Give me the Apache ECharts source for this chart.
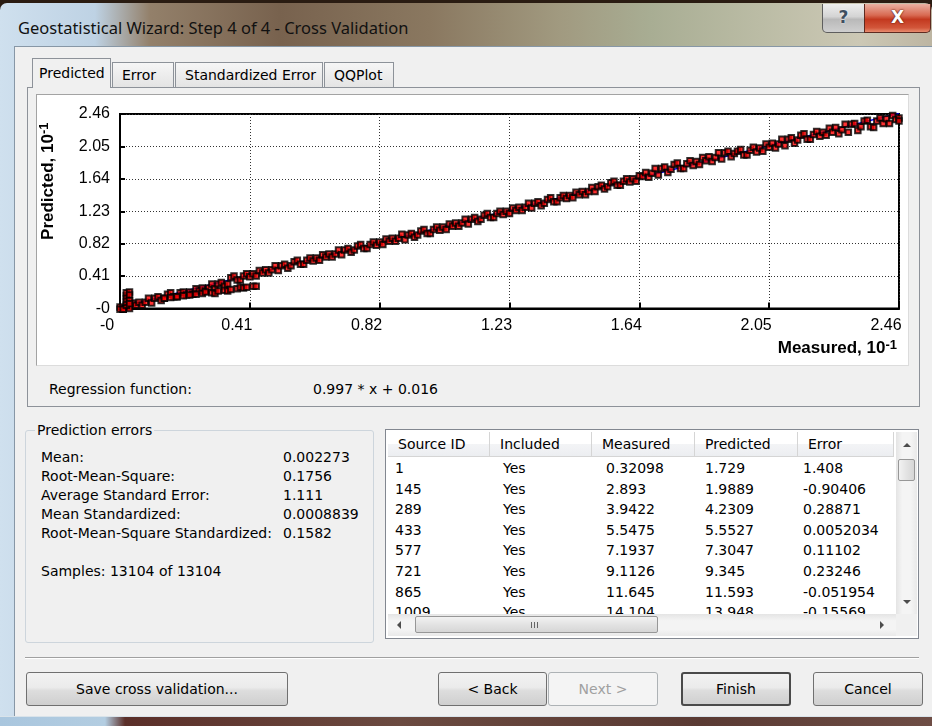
<!DOCTYPE html>
<html><head><meta charset="utf-8"><title>Geostatistical Wizard: Step 4 of 4 - Cross Validation</title>
<script src="https://cdn.jsdelivr.net/npm/echarts@6.0.0/dist/echarts.min.js"></script>
<style>
*{box-sizing:border-box;}
html,body{margin:0;padding:0;width:932px;height:726px;overflow:hidden;}
body{position:relative;font-family:"DejaVu Sans",Verdana,sans-serif;font-size:14px;color:#000;background:#2a1c12;}
.a{position:absolute;}
#glass{left:0;top:3px;width:932px;height:723px;border-radius:7px 7px 0 0;
 background:linear-gradient(90deg,#cfe0ee 0,#bed2e4 95px,#93806a 150px,#78624e 280px,#8a7860 430px,#a19a80 560px,#a8ad93 650px,#bbbca5 760px,#ccc8b5 860px,#bdb5a2 932px);}
#client{left:14px;top:46px;width:918px;height:670px;background:#f0f0f0;border-left:1px solid #8797a6;border-top:1px solid #8797a6;}
#bottomframe{left:0;top:716px;width:932px;height:10px;background:linear-gradient(90deg,#a9c6de 0,#b3cde1 105px,#5b2f29 125px,#6b4a40 400px,#5a3a33 700px,#6e4d45 932px);border-top:1px solid #d9e3ea;}
#title{left:18px;top:16px;line-height:24px;font-family:"Noto Sans",sans-serif;font-size:16.5px;color:#111;white-space:nowrap;}
#help{left:822px;top:4px;width:43px;height:29px;border:1px solid #5e5e5e;border-top:none;border-radius:0 0 0 5px;
 background:linear-gradient(#eeeeee,#d4d4d4 45%,#b9b9b9 55%,#cfcfcf);text-align:center;font-weight:bold;font-size:17px;line-height:27px;color:#3f4f60;text-shadow:0 0 2px #fff;}
#close{left:864px;top:4px;width:67px;height:29px;border:1px solid #5e2a20;border-top:none;border-radius:0 0 5px 0;
 background:linear-gradient(#eab0a2,#d86a52 40%,#c3391f 55%,#d2563a 85%,#e88c6f);text-align:center;font-weight:bold;font-size:17px;line-height:27px;color:#fff;text-shadow:0 0 2px #5a1a10,0 0 1px #5a1a10;}
.tab{top:62px;height:25px;border:1px solid #8d9299;border-bottom:none;background:linear-gradient(#f6f6f6,#e4e4e4);line-height:24px;padding-left:9px;white-space:nowrap;}
#tabsel{left:32px;top:58px;width:79px;height:30px;background:#f0f0f0;border:1px solid #8d9299;border-bottom:none;line-height:28px;padding-left:6px;z-index:3;}
#panel{left:27px;top:87px;width:893px;height:320px;border:1px solid #8d9299;background:#f0f0f0;}
#plotbox{left:36px;top:94px;width:873px;height:272px;background:#fff;border:1px solid #a3a3a3;border-right-color:#dcdcdc;border-bottom-color:#dcdcdc;}
.txt{white-space:nowrap;line-height:18px;}
#group{left:25px;top:430px;width:349px;height:213px;border:1px solid #cdd5dc;border-radius:3px;}
#grouplabel{left:35px;top:421px;background:#f0f0f0;padding:0 2px;line-height:18px;}
#table{left:385px;top:429px;width:534px;height:210px;border:1px solid #828790;background:#fff;overflow:hidden;}
.hcell{top:2px;height:25px;line-height:25px;border-right:1px solid #d5d5d5;border-bottom:1px solid #d5d5d5;padding-left:10px;white-space:nowrap;
 background:linear-gradient(#ffffff,#ffffff 50%,#f3f4f6 51%,#eceef1);}
.cell{white-space:nowrap;height:21px;line-height:21px;}
#vscroll{left:510px;top:2px;width:21px;height:182px;background:linear-gradient(90deg,#e4e4e4,#f4f4f4 30%,#f4f4f4 70%,#e9e9e9);}
#hscroll{left:2px;top:184px;width:508px;height:22px;background:linear-gradient(#e4e4e4,#f4f4f4 30%,#f4f4f4 70%,#e9e9e9);}
#corner{left:510px;top:184px;width:21px;height:22px;background:#f0f0f0;}
.thumbv{left:2px;top:27px;width:17px;height:22px;border:1px solid #979797;border-radius:2px;background:linear-gradient(90deg,#f2f2f2,#e3e3e3 50%,#d6d6d6);}
.thumbh{left:27px;top:2px;width:243px;height:17px;border:1px solid #979797;border-radius:2px;background:linear-gradient(#f2f2f2,#e3e3e3 50%,#d6d6d6);}
.grip{left:115px;top:5px;width:7px;height:6px;background:repeating-linear-gradient(90deg,#666 0,#666 1px,transparent 1px,transparent 3px);}
.tri{width:0;height:0;border-style:solid;}
.btn{top:672px;height:34px;border:1px solid #707070;border-radius:3px;background:linear-gradient(#f2f2f2,#ebebeb 45%,#dddddd 55%,#cfcfcf);text-align:center;line-height:32px;white-space:nowrap;}
#sep{left:25px;top:657px;width:894px;height:2px;border-top:1px solid #a0a0a0;border-bottom:1px solid #ffffff;}
#chart{left:0;top:0;width:932px;height:726px;z-index:10;pointer-events:none;}
</style></head>
<body>
<div class="a" id="glass"></div>
<div class="a" id="client"></div>
<div class="a" id="bottomframe"></div>
<div class="a" id="title">Geostatistical Wizard: Step 4 of 4 - Cross Validation</div>
<div class="a" id="help">?</div>
<div class="a" id="close">X</div>

<div class="a" id="panel"></div>
<div id="tabs"></div>
<div class="a" id="plotbox"></div>
<div class="a txt" id="regLabel" style="left:49px;top:380px;"></div>
<div class="a txt" id="regValue" style="left:313px;top:380px;"></div>

<div class="a" id="group"></div>
<div class="a" id="grouplabel">Prediction errors</div>
<div id="stats"></div>

<div class="a" id="table">
  <div id="tableInner"></div>
  <div class="a" id="vscroll">
    <div class="a tri" style="left:7px;top:11px;border-width:0 4px 4px 4px;border-color:transparent transparent #4d4d4d transparent;"></div>
    <div class="a thumbv"></div>
    <div class="a tri" style="left:7px;top:168px;border-width:4px 4px 0 4px;border-color:#4d4d4d transparent transparent transparent;"></div>
  </div>
  <div class="a" id="hscroll">
    <div class="a tri" style="left:9px;top:7px;border-width:4px 4px 4px 0;border-color:transparent #4d4d4d transparent transparent;"></div>
    <div class="a thumbh"><div class="a grip"></div></div>
    <div class="a tri" style="left:492px;top:7px;border-width:4px 0 4px 4px;border-color:transparent transparent transparent #4d4d4d;"></div>
  </div>
  <div class="a" id="corner"></div>
</div>

<div class="a" id="sep"></div>
<div id="buttons"></div>

<div class="a" id="chart"></div>

<script>
// ---------------- chart data ----------------
const xTickLabels = ['-0', '0.41', '0.82', '1.23', '1.64', '2.05', '2.46'];
const yTickLabels = ['-0', '0.41', '0.82', '1.23', '1.64', '2.05', '2.46'];
const axisMin = 0, axisMax = 2.46, axisStep = 0.41;

// measured vs predicted (10^-1)
const mainBand = [
[0.00,0.02],[0.01,-0.01],[0.02,0.03],[0.03,0.00],[0.04,0.07],[0.05,0.04],[0.06,0.08],[0.07,0.04],[0.08,0.08],[0.09,0.13],
[0.10,0.07],[0.11,0.13],[0.12,0.15],[0.13,0.10],[0.14,0.13],[0.15,0.18],[0.16,0.20],[0.17,0.15],[0.18,0.15],[0.19,0.20],
[0.20,0.21],[0.21,0.17],[0.22,0.21],[0.23,0.18],[0.24,0.25],[0.25,0.22],[0.26,0.26],[0.27,0.22],[0.28,0.26],[0.29,0.31],
[0.30,0.25],[0.31,0.31],[0.32,0.33],[0.33,0.28],[0.34,0.31],[0.35,0.39],[0.36,0.41],[0.37,0.36],[0.38,0.36],[0.39,0.41],
[0.40,0.44],[0.41,0.40],[0.42,0.44],[0.43,0.41],[0.44,0.48],[0.45,0.45],[0.46,0.49],[0.47,0.45],[0.48,0.49],[0.49,0.54],
[0.50,0.48],[0.51,0.54],[0.52,0.56],[0.53,0.51],[0.54,0.54],[0.55,0.59],[0.56,0.61],[0.57,0.56],[0.58,0.56],[0.59,0.61],
[0.60,0.64],[0.61,0.60],[0.62,0.64],[0.63,0.61],[0.64,0.68],[0.65,0.65],[0.66,0.69],[0.67,0.65],[0.68,0.69],[0.69,0.74],
[0.70,0.68],[0.71,0.74],[0.72,0.76],[0.73,0.71],[0.74,0.74],[0.75,0.79],[0.76,0.81],[0.77,0.76],[0.78,0.76],[0.79,0.81],
[0.80,0.84],[0.81,0.80],[0.82,0.84],[0.83,0.81],[0.84,0.88],[0.85,0.85],[0.86,0.89],[0.87,0.85],[0.88,0.89],[0.89,0.94],
[0.90,0.87],[0.91,0.93],[0.92,0.95],[0.93,0.90],[0.94,0.93],[0.95,0.98],[0.96,1.00],[0.97,0.95],[0.98,0.95],[0.99,1.00],
[1.00,1.03],[1.01,0.99],[1.02,1.03],[1.03,1.00],[1.04,1.07],[1.05,1.04],[1.06,1.08],[1.07,1.04],[1.08,1.08],[1.09,1.13],
[1.10,1.07],[1.11,1.13],[1.12,1.15],[1.13,1.10],[1.14,1.13],[1.15,1.18],[1.16,1.20],[1.17,1.15],[1.18,1.15],[1.19,1.20],
[1.20,1.23],[1.21,1.19],[1.22,1.23],[1.23,1.20],[1.24,1.27],[1.25,1.24],[1.26,1.28],[1.27,1.24],[1.28,1.28],[1.29,1.33],
[1.30,1.27],[1.31,1.33],[1.32,1.35],[1.33,1.30],[1.34,1.33],[1.35,1.38],[1.36,1.40],[1.37,1.35],[1.38,1.35],[1.39,1.40],
[1.40,1.43],[1.41,1.39],[1.42,1.43],[1.43,1.40],[1.44,1.47],[1.45,1.44],[1.46,1.48],[1.47,1.44],[1.48,1.48],[1.49,1.53],
[1.50,1.48],[1.51,1.54],[1.52,1.56],[1.53,1.51],[1.54,1.54],[1.55,1.59],[1.56,1.61],[1.57,1.56],[1.58,1.56],[1.59,1.61],
[1.60,1.64],[1.61,1.60],[1.62,1.64],[1.63,1.61],[1.64,1.68],[1.65,1.67],[1.66,1.72],[1.67,1.66],[1.68,1.71],[1.69,1.77],
[1.70,1.69],[1.71,1.77],[1.72,1.79],[1.73,1.72],[1.74,1.76],[1.75,1.82],[1.76,1.84],[1.77,1.77],[1.78,1.77],[1.79,1.83],
[1.80,1.87],[1.81,1.81],[1.82,1.86],[1.83,1.82],[1.84,1.91],[1.85,1.87],[1.86,1.92],[1.87,1.86],[1.88,1.91],[1.89,1.97],
[1.90,1.89],[1.91,1.97],[1.92,1.99],[1.93,1.92],[1.94,1.96],[1.95,1.99],[1.96,2.01],[1.97,1.94],[1.98,1.94],[1.99,2.00],
[2.00,2.04],[2.01,1.98],[2.02,2.03],[2.03,1.99],[2.04,2.08],[2.05,2.04],[2.06,2.09],[2.07,2.03],[2.08,2.08],[2.09,2.14],
[2.10,2.06],[2.11,2.14],[2.12,2.16],[2.13,2.09],[2.14,2.13],[2.15,2.19],[2.16,2.21],[2.17,2.14],[2.18,2.14],[2.19,2.20],
[2.20,2.24],[2.21,2.18],[2.22,2.23],[2.23,2.19],[2.24,2.28],[2.25,2.23],[2.26,2.29],[2.27,2.21],[2.28,2.26],[2.29,2.33],
[2.30,2.23],[2.31,2.33],[2.32,2.34],[2.33,2.25],[2.34,2.30],[2.35,2.37],[2.36,2.38],[2.37,2.30],[2.38,2.29],[2.39,2.37],
[2.40,2.41],[2.41,2.34],[2.42,2.40],[2.43,2.34],[2.44,2.44],[2.45,2.39],[2.46,2.41],[2.46,2.37]
];
const lowerBranch = [
[0.14,0.13],[0.16,0.14],[0.18,0.15],[0.20,0.16],[0.22,0.17],[0.24,0.18],[0.26,0.19],[0.27,0.21],[0.29,0.20],[0.30,0.19],
[0.31,0.22],[0.33,0.23],[0.34,0.22],[0.35,0.24],[0.37,0.25],[0.38,0.27],[0.39,0.26],[0.40,0.27],[0.42,0.28],[0.43,0.28]
];
const originSpike = [
[0.00,-0.01],[0.01,-0.01],[0.02,0.04],[0.02,0.08],[0.02,0.12],[0.02,0.16],[0.02,0.20],[0.03,0.21],[0.03,0.17],[0.03,0.10],[0.03,0.06]
];
const regressionLine = [[0.00, 0.016], [2.46, 2.469]];

// ---------------- dialog texts ----------------
const tabNames = ['Predicted', 'Error', 'Standardized Error', 'QQPlot'];
const regressionText = ['Regression function:', '0.997 * x + 0.016'];
const statLabels = ['Mean:', 'Root-Mean-Square:', 'Average Standard Error:', 'Mean Standardized:', 'Root-Mean-Square Standardized:'];
const statValues = ['0.002273', '0.1756', '1.111', '0.0008839', '0.1582'];
const samplesText = 'Samples: 13104 of 13104';
const tableHeaders = ['Source ID', 'Included', 'Measured', 'Predicted', 'Error'];
const sourceIds = ['1', '145', '289', '433', '577', '721', '865', '1009'];
const includedVals = ['Yes', 'Yes', 'Yes', 'Yes', 'Yes', 'Yes', 'Yes', 'Yes'];
const measuredVals = ['0.32098', '2.893', '3.9422', '5.5475', '7.1937', '9.1126', '11.645', '14.104'];
const predictedVals = ['1.729', '1.9889', '4.2309', '5.5527', '7.3047', '9.345', '11.593', '13.948'];
const errorVals = ['1.408', '-0.90406', '0.28871', '0.0052034', '0.11102', '0.23246', '-0.051954', '-0.15569'];
const buttonLabels = ['Save cross validation...', '< Back', 'Next >', 'Finish', 'Cancel'];

// ---------------- build dialog ----------------
function el(parent, cls, style, text) {
  const d = document.createElement('div');
  d.className = cls; d.setAttribute('style', style);
  if (text !== undefined) d.textContent = text;
  parent.appendChild(d); return d;
}
const tabsEl = document.getElementById('tabs');
const tabGeom = [[32, 79], [112, 62], [175, 148], [324, 70]];
tabNames.forEach((t, i) => {
  if (i === 0) { const d = el(tabsEl, 'a', '', t); d.id = 'tabsel'; }
  else el(tabsEl, 'a tab', `left:${tabGeom[i][0]}px;width:${tabGeom[i][1]}px;`, t);
});
document.getElementById('regLabel').textContent = regressionText[0];
document.getElementById('regValue').textContent = regressionText[1];

const statsEl = document.getElementById('stats');
statLabels.forEach((t, i) => {
  el(statsEl, 'a txt', `left:41px;top:${448 + i * 19}px;`, t);
  el(statsEl, 'a txt', `left:283px;top:${448 + i * 19}px;`, statValues[i]);
});
el(statsEl, 'a txt', `left:41px;top:${448 + 6 * 19}px;`, samplesText);

const tbl = document.getElementById('tableInner');
const colX = [2, 104, 206, 309, 412];
const colW = [102, 102, 103, 103, 96];
tableHeaders.forEach((h, i) => el(tbl, 'a hcell', `left:${colX[i]}px;width:${colW[i]}px;`, h));
const cols = [sourceIds, includedVals, measuredVals, predictedVals, errorVals];
const cellPad = [7, 13, 14, 10, 5];
sourceIds.forEach((_, r) => {
  cols.forEach((c, i) => el(tbl, 'a cell', `left:${colX[i] + cellPad[i]}px;top:${(28 + r * 20.6).toFixed(1)}px;`, c[r]));
});

const btnEl = document.getElementById('buttons');
const btnGeom = [[26, 262], [438, 109], [548, 110], [681, 110], [813, 110]];
buttonLabels.forEach((b, i) => {
  let extra = '';
  if (i === 2) extra = 'color:#a0a0a0;border-color:#adb2b5;background:#f4f4f4;';
  if (i === 3) extra = 'border:2px solid #4a4a4a;line-height:30px;';
  el(btnEl, 'a btn', `left:${btnGeom[i][0]}px;width:${btnGeom[i][1]}px;${extra}`, b);
});

// ---------------- chart ----------------
const chart = echarts.init(document.getElementById('chart'), null, { renderer: 'canvas' });
const axisFont = 'Liberation Sans';
const titleRich = {
  b: { fontFamily: axisFont, fontSize: 17, fontWeight: 'bold', color: '#000', lineHeight: 20 },
  s: { fontFamily: axisFont, fontSize: 13, fontWeight: 'bold', color: '#000', lineHeight: 13, verticalAlign: 'top' }
};
chart.setOption({
  animation: false,
  grid: { left: 120, right: 33, top: 114, bottom: 417.5, show: true, borderColor: '#000', borderWidth: 2, backgroundColor: 'transparent' },
  xAxis: {
    type: 'value', min: axisMin, max: axisMax, interval: axisStep,
    axisLine: { show: true, onZero: false, lineStyle: { color: '#000', width: 2 } },
    axisTick: { show: true, inside: true, length: 6, lineStyle: { color: '#000', width: 2 } },
    splitLine: { show: true, lineStyle: { color: '#333', width: 1, type: [1, 2] } },
    axisLabel: { formatter: (v, i) => xTickLabels[i], fontFamily: axisFont, fontSize: 16, color: '#000', margin: 9, padding: [0, 26, 0, 0] },
    name: '{b|Measured, 10}{s|-1}', nameLocation: 'end', nameGap: -2,
    nameTextStyle: { align: 'right', verticalAlign: 'top', padding: [30, 0, 0, 0], rich: titleRich }
  },
  yAxis: {
    type: 'value', min: axisMin, max: axisMax, interval: axisStep,
    axisLine: { show: true, onZero: false, lineStyle: { color: '#000', width: 2 } },
    axisTick: { show: true, inside: true, length: 5, lineStyle: { color: '#000', width: 2 } },
    splitLine: { show: true, lineStyle: { color: '#333', width: 1, type: [1, 2] } },
    axisLabel: { formatter: (v, i) => yTickLabels[i], fontFamily: axisFont, fontSize: 16, color: '#000', margin: 10, padding: [0, 0, 10, 0] },
    name: '{b|Predicted, 10}{s|-1}', nameLocation: 'middle', nameRotate: 90, nameGap: 62,
    nameTextStyle: { padding: [0, 0, 0, 60], rich: titleRich }
  },
  series: [
    { type: 'line', data: regressionLine, showSymbol: false, z: 1, lineStyle: { color: '#0000ff', width: 1.5 }, silent: true },
    { type: 'scatter', data: mainBand.concat(lowerBranch, originSpike), symbol: 'rect', symbolSize: 5.5, clip: false, z: 2,
      itemStyle: { color: '#ff0000', borderColor: '#000', borderWidth: 2 } }
  ]
});
</script>
</body></html>
